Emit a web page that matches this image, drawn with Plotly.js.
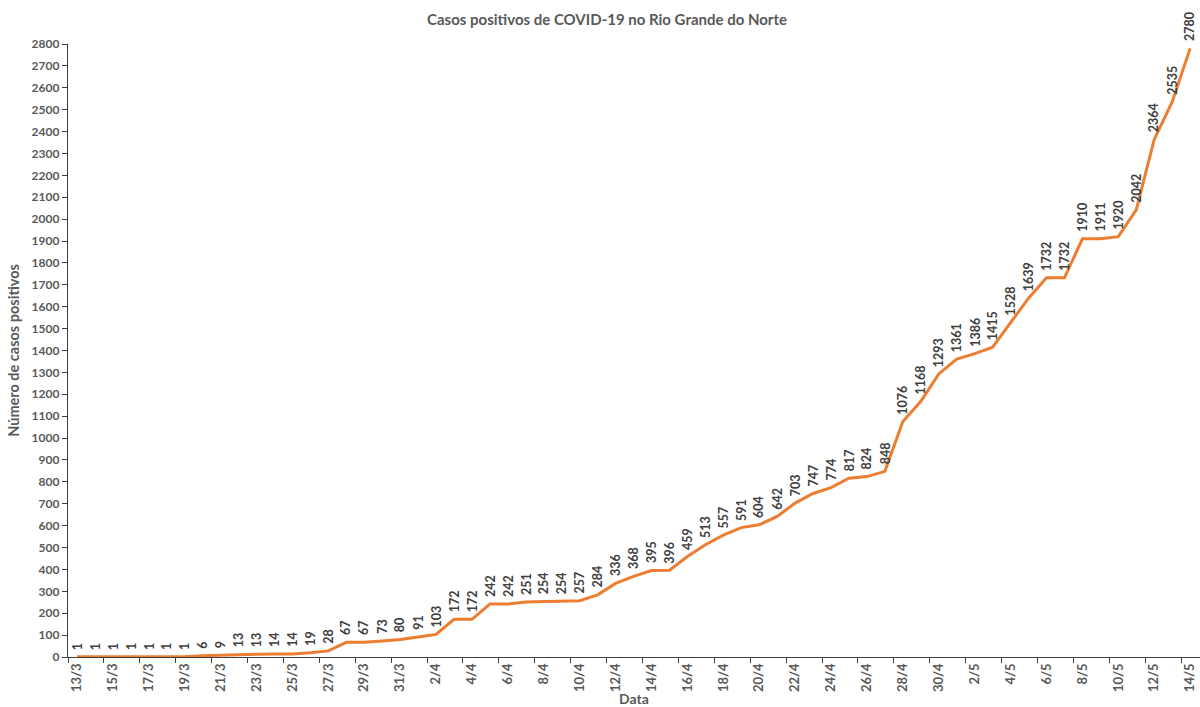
<!DOCTYPE html>
<html>
<head>
<meta charset="utf-8">
<script src="https://cdn.plot.ly/plotly-3.0.1.min.js"></script>
<style>html,body{margin:0;padding:0;background:#fff;}#chart{width:1200px;height:707px;}</style>
</head>
<body>
<div id="chart"></div>
<script>
const dates = ["13/3","14/3","15/3","16/3","17/3","18/3","19/3","20/3","21/3","22/3","23/3","24/3","25/3","26/3","27/3","28/3","29/3","30/3","31/3",
"1/4","2/4","3/4","4/4","5/4","6/4","7/4","8/4","9/4","10/4","11/4","12/4","13/4","14/4","15/4","16/4","17/4","18/4","19/4","20/4","21/4","22/4","23/4","24/4","25/4","26/4","27/4","28/4","29/4","30/4",
"1/5","2/5","3/5","4/5","5/5","6/5","7/5","8/5","9/5","10/5","11/5","12/5","13/5","14/5"];
const cases = [1,1,1,1,1,1,1,6,9,13,13,14,14,19,28,67,67,73,80,91,103,172,172,242,242,251,254,254,257,284,336,368,395,396,459,513,557,591,604,642,703,747,774,817,824,848,1076,1168,1293,1361,1386,1415,1528,1639,1732,1732,1910,1911,1920,2042,2364,2535,2780];

const chartTitle = "Casos positivos de COVID-19 no Rio Grande do Norte";
const xTitle = "Data";
const yTitle = "Número de casos positivos";

const FONT = "Lato, 'Open Sans', sans-serif";
const GRAY = "#595959";

const labelAnnotations = dates.map((d, i) => ({
  x: d, y: cases[i], xref: "x", yref: "y",
  text: String(cases[i]), showarrow: false, textangle: -90,
  xanchor: "center", yanchor: "bottom", yshift: 5,
  font: {family: FONT, size: 12.5, color: "#404040", weight: 700}
}));

const trace = {
  x: dates, y: cases, type: "scatter", mode: "lines",
  line: {color: "#ED7D31", width: 3},
  hoverinfo: "x+y"
};

const layout = {
  width: 1200, height: 707,
  margin: {l: 68, r: 0, t: 44, b: 50},
  paper_bgcolor: "#fff", plot_bgcolor: "#fff",
  showlegend: false,
  title: {text: chartTitle, x: (607-68)/1132, xref: "paper", xanchor: "center", y: 0.972, yref: "container", yanchor: "middle",
          font: {family: FONT, size: 15, color: GRAY, weight: 700}},
  xaxis: {
    type: "category", range: [-0.5, 62.55], dtick: 2, tick0: 0,
    tickson: "boundaries", ticks: "outside", ticklen: 5, tickcolor: "#404040",
    showline: true, linecolor: "#404040", linewidth: 1.3, showgrid: false, zeroline: false,
    tickangle: -90, tickfont: {family: FONT, size: 13, color: GRAY, weight: 700},
    title: {text: xTitle, standoff: 4, font: {family: FONT, size: 14, color: GRAY, weight: 700}},
    fixedrange: true
  },
  yaxis: {
    range: [0, 2800], dtick: 100, tick0: 0,
    ticks: "outside", ticklen: 5, tickcolor: "#404040",
    showline: true, linecolor: "#404040", linewidth: 1.3, showgrid: false, zeroline: false,
    tickfont: {family: FONT, size: 12, color: GRAY, weight: 700},
    title: {text: yTitle, standoff: 8, font: {family: FONT, size: 14.5, color: GRAY, weight: 700}},
    fixedrange: true
  },
  annotations: labelAnnotations
};

Plotly.newPlot("chart", [trace], layout, {displayModeBar: false, responsive: false});
</script>
</body>
</html>
